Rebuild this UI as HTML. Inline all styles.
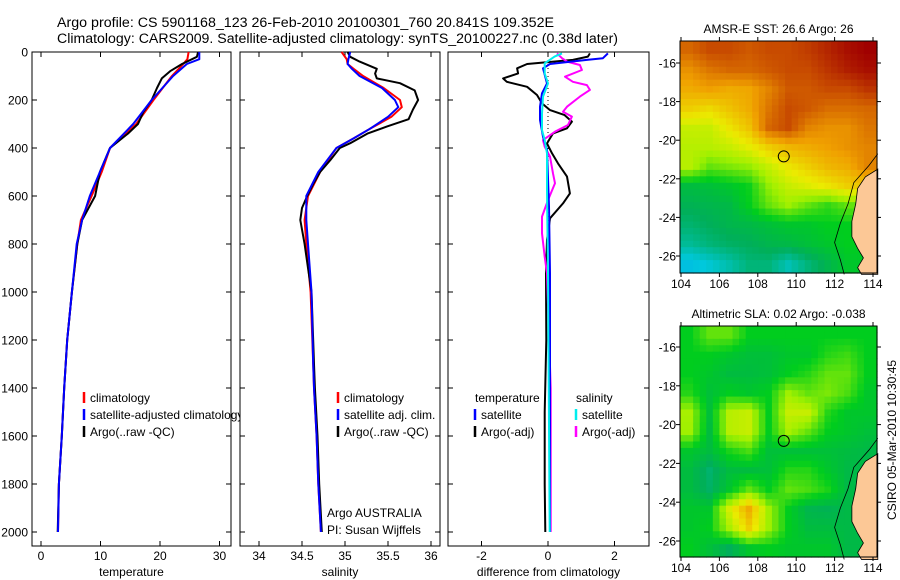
<!DOCTYPE html>
<html><head><meta charset="utf-8"><style>
html,body{margin:0;padding:0;background:#fff;}
svg{display:block;font-family:"Liberation Sans",sans-serif;}
</style></head><body>
<svg id="chart" width="900" height="580" viewBox="0 0 900 580">
<text x="57" y="27" font-size="14.2" textLength="497" lengthAdjust="spacingAndGlyphs">Argo profile: CS 5901168_123 26-Feb-2010 20100301_760 20.841S 109.352E</text>
<text x="57" y="43" font-size="14.2" textLength="561" lengthAdjust="spacingAndGlyphs">Climatology: CARS2009. Satellite-adjusted climatology: synTS_20100227.nc (0.38d later)</text>
<g id="plots"></g>
</svg>
<script>
// ---------- data ----------
const tempDepthClim=[0,30,50,100,200,300,400,500,600,700,800,1000,1200,1400,1600,1800,2000];
const tempClim=[24.8,24.6,23.9,22,18.9,16,11.6,10.2,8.5,6.7,6.1,5.2,4.4,3.9,3.5,3.0,2.85];
const tempSat=[26.6,26.6,24.5,22.2,18.6,15.5,11.6,9.9,8.2,6.9,6.0,5.2,4.4,3.9,3.5,3.0,2.85];
const tempArgoDepth=[0,20,50,80,110,150,200,250,300,340,400,500,600,700,800,1000,1200,1400,1600,1800,2000];
const tempArgo=[26.4,26.2,23.7,21.7,20.3,19.5,18.6,17.2,16.3,14.6,11.6,9.9,9.1,6.9,6.1,5.2,4.4,3.9,3.5,3.0,2.8];
const salDepth=[0,30,50,70,100,150,200,230,270,320,360,400,500,600,700,800,1000,1300,1400,1600,1800,2000];
const salClim=[34.96,35.02,35.03,35.1,35.21,35.45,35.64,35.66,35.54,35.29,35.1,34.9,34.71,34.57,34.53,34.55,34.6,34.63,34.64,34.67,34.69,34.72];
const salSat=[35.06,35.04,35.03,35.08,35.17,35.43,35.58,35.62,35.5,35.29,35.1,34.9,34.69,34.55,34.55,34.57,34.61,34.63,34.64,34.67,34.69,34.72];
const salArgoDepth=[0,20,40,70,90,110,130,160,200,240,280,310,340,380,400,450,500,550,600,650,700,800,900,1000,1300,1400,1600,1800,2000];
const salArgo=[35.03,35.06,35.17,35.37,35.35,35.37,35.64,35.81,35.85,35.79,35.74,35.49,35.26,35.06,34.94,34.83,34.71,34.63,34.56,34.5,34.48,34.53,34.57,34.61,34.64,34.65,34.68,34.7,34.73];
const dTArgoDepth=[6,19,33,50,68,89,110,124,145,179,214,242,263,290,318,339,381,422,464,519,589,631,693,783,922,1200,1500,1800,2000];
const dTArgo=[1.26,1.2,0.75,-0.63,-0.93,-0.9,-1.35,-1.24,-0.63,-0.33,-0.18,0.06,0.5,0.72,0.57,0.15,-0.03,0.12,0.3,0.57,0.66,0.45,0.06,-0.03,-0.06,-0.05,-0.1,-0.1,-0.08];
const dTSatDepth=[6,26,33,50,68,131,172,228,283,353,408,644,922,2000];
const dTSat=[1.8,1.65,1.17,0.06,-0.15,-0.03,-0.18,-0.24,-0.24,-0.15,-0.03,0.03,0.06,0.06];
const dSSatDepth=[6,19,47,89,131,186,256,325,367,422,575,922,2000];
const dSSat=[0.42,0.2,-0.1,-0.1,0,-0.15,-0.18,-0.18,-0.1,-0.03,-0.03,0,0.05];
const dSArgoDepth=[6,26,40,54,75,103,124,138,158,186,228,249,269,304,332,367,394,436,506,547,617,686,756,853,922,1400,2000];
const dSArgo=[0.27,0.42,0.57,0.96,1.02,0.51,0.75,1.17,1.26,0.96,0.57,0.45,0.72,0.6,0.21,-0.15,-0.1,0.06,0.15,0.21,0,-0.18,-0.18,-0.1,-0.03,0.08,0.08];
const depthTicks=[0,200,400,600,800,1000,1200,1400,1600,1800,2000];
const tempTicks=[0,10,20,30];
const salTicks=[34,34.5,35,35.5,36];
const diffTicks=[-2,0,2];
const lonTicks=[104,106,108,110,112,114];
const latTicks=[-16,-18,-20,-22,-24,-26];
const sstGrid=[
[0.86,0.9,0.9,0.88,0.9,0.9,0.92,0.95,0.98,1.0],
[0.8,0.84,0.86,0.86,0.88,0.9,0.9,0.93,0.96,0.98],
[0.76,0.78,0.76,0.77,0.82,0.88,0.88,0.9,0.9,0.93],
[0.7,0.68,0.72,0.76,0.84,0.9,0.88,0.85,0.85,0.86],
[0.6,0.6,0.66,0.72,0.86,0.9,0.82,0.8,0.8,0.84],
[0.58,0.58,0.6,0.64,0.7,0.74,0.76,0.78,0.8,0.82],
[0.58,0.5,0.52,0.54,0.6,0.66,0.7,0.74,0.76,0.82],
[0.37,0.38,0.4,0.43,0.54,0.6,0.63,0.66,0.7,0.72],
[0.34,0.35,0.36,0.42,0.5,0.55,0.5,0.46,0.5,0.5],
[0.31,0.33,0.35,0.36,0.38,0.4,0.4,0.42,0.42,0.42],
[0.27,0.3,0.32,0.33,0.35,0.36,0.38,0.4,0.42,0.42],
[0.18,0.21,0.25,0.3,0.3,0.24,0.3,0.35,0.4,0.4]];
const slaGrid=[
[0.42,0.5,0.5,0.42,0.42,0.42,0.42,0.42,0.42,0.42],
[0.42,0.42,0.4,0.38,0.38,0.4,0.4,0.45,0.47,0.42],
[0.42,0.4,0.37,0.37,0.38,0.42,0.45,0.5,0.5,0.42],
[0.45,0.38,0.42,0.4,0.42,0.55,0.5,0.52,0.48,0.4],
[0.56,0.38,0.58,0.6,0.42,0.6,0.6,0.45,0.4,0.4],
[0.55,0.37,0.58,0.6,0.42,0.56,0.5,0.42,0.4,0.38],
[0.4,0.37,0.44,0.48,0.38,0.38,0.38,0.38,0.37,0.36],
[0.37,0.31,0.37,0.37,0.38,0.45,0.45,0.4,0.36,0.36],
[0.37,0.32,0.4,0.5,0.42,0.5,0.48,0.44,0.36,0.36],
[0.4,0.4,0.62,0.76,0.55,0.42,0.35,0.34,0.36,0.36],
[0.4,0.42,0.56,0.7,0.55,0.42,0.37,0.37,0.36,0.36],
[0.42,0.38,0.33,0.4,0.42,0.4,0.4,0.4,0.36,0.36]];
const argoLon=109.352, argoLat=-20.841;

// ---------- helpers ----------
const NS='http://www.w3.org/2000/svg';
const root=document.getElementById('plots');
function mk(tag,attrs,parent){const e=document.createElementNS(NS,tag);for(const k in attrs)e.setAttribute(k,attrs[k]);(parent||root).appendChild(e);return e;}
const yD=d=>52+0.24*d;
const xT=v=>41+5.95*v;
const xS=v=>259+86*(v-34);
const xDf=v=>548+33.25*v;
const PY0=52,PY1=546;

function line(xs,ds,fx,color,w,name){
  const p=mk('polyline',{points:xs.map((v,i)=>fx(v).toFixed(1)+','+yD(ds[i]).toFixed(1)).join(' '),fill:'none',stroke:color,'stroke-width':w,'stroke-linejoin':'round'});
  
  
}
function panel(x0,x1,ticks,fx,labelFmt,xlabel,name,leftLabels){
  const r=mk('rect',{x:x0,y:PY0,width:x1-x0,height:PY1-PY0,fill:'#fff',stroke:'#000','stroke-width':1});
  
  
  ticks.forEach(t=>{const x=fx(t);
    mk('line',{x1:x,x2:x,y1:PY0,y2:PY0+5,stroke:'#000'});mk('line',{x1:x,x2:x,y1:PY1,y2:PY1-5,stroke:'#000'});
    const tx=mk('text',{x:x,y:PY1+14,'font-size':12,'text-anchor':'middle'});tx.textContent=labelFmt(t);
    
    });
  depthTicks.forEach(d=>{const y=yD(d);
    mk('line',{x1:x0,x2:x0+5,y1:y,y2:y,stroke:'#000'});mk('line',{x1:x1,x2:x1-5,y1:y,y2:y,stroke:'#000'});
    if(leftLabels){const tx=mk('text',{x:x0-4,y:y+4.5,'font-size':12,'text-anchor':'end'});tx.textContent=d;
      
      }});
  const xl=mk('text',{x:(x0+x1)/2,y:576,'font-size':12,'text-anchor':'middle'});xl.textContent=xlabel;
  
  
}
function legend(items,x,y){
  items.forEach((it,i)=>{const yy=y+i*17;
    if(it.c){mk('line',{x1:x,x2:x,y1:yy-10,y2:yy+1,stroke:it.c,'stroke-width':2.5});}
    const t=mk('text',{x:it.c?x+6:x,y:yy,'font-size':12});t.textContent=it.t;
    
    });
}

// panel 1 temperature
panel(32,231,tempTicks,xT,t=>t,'temperature','temperature-panel',true);
line(tempClim,tempDepthClim,xT,'#f00',2,'temp-climatology-line');
line(tempArgo,tempArgoDepth,xT,'#000',2,'temp-argo-line');
line(tempSat,tempDepthClim,xT,'#00f',2,'temp-satellite-line');
legend([{t:'climatology',c:'#f00'},{t:'satellite-adjusted climatology',c:'#00f'},{t:'Argo(..raw -QC)',c:'#000'}],84,402);

// panel 2 salinity
panel(240,440,salTicks,xS,t=>t,'salinity','salinity-panel',false);
line(salClim,salDepth,xS,'#f00',2,'sal-climatology-line');
line(salArgo,salArgoDepth,xS,'#000',2,'sal-argo-line');
line(salSat,salDepth,xS,'#00f',2,'sal-satellite-line');
legend([{t:'climatology',c:'#f00'},{t:'satellite adj. clim.',c:'#00f'},{t:'Argo(..raw -QC)',c:'#000'}],338,402);
legend([{t:'Argo AUSTRALIA'},{t:'PI: Susan Wijffels'}],327,517);

// panel 3 differences
panel(448,649,diffTicks,xDf,t=>t,'difference from climatology','difference-panel',false);
mk('line',{x1:xDf(0),x2:xDf(0),y1:PY0,y2:yD(920),stroke:'#000','stroke-dasharray':'1,3'});
line(dTArgo,dTArgoDepth,xDf,'#000',2,'diff-temp-argo-line');
line(dSArgo,dSArgoDepth,xDf,'#f0f',2,'diff-sal-argo-line');
line(dTSat,dTSatDepth,xDf,'#00f',2,'diff-temp-satellite-line');
line(dSSat,dSSatDepth,xDf,'#0ee',2,'diff-sal-satellite-line');
legend([{t:'temperature'},{t:'satellite',c:'#00f'},{t:'Argo(-adj)',c:'#000'}],475,402);
legend([{t:'salinity'},{t:'satellite',c:'#0ee'},{t:'Argo(-adj)',c:'#f0f'}],576,402);

// colormap
const cmStops=[[0,[0,120,255]],[0.2,[0,200,220]],[0.33,[0,175,90]],[0.42,[0,205,30]],[0.55,[160,240,0]],[0.65,[235,235,0]],[0.78,[240,160,0]],[0.9,[200,75,0]],[1,[160,0,0]]];
function cmap(v){for(let i=1;i<cmStops.length;i++){if(v<=cmStops[i][0]){const a=cmStops[i-1],b=cmStops[i],f=(v-a[0])/(b[0]-a[0]);return 'rgb('+a[1].map((c,k)=>Math.round(c+(b[1][k]-c)*f)).join(',')+')';}}return 'rgb(160,0,0)';}

const land=[[114.25,-21.5],[113.6,-21.9],[113.2,-22.5],[113.1,-23.3],[112.9,-24.2],[112.9,-25],[113.2,-25.6],[113.5,-26.1],[113.2,-26.6],[113.4,-26.95],[114.25,-26.95]];
const shelf=[[114.25,-20.7],[113.8,-21.3],[113.0,-22.2],[112.7,-23.3],[112.3,-24.3],[112.0,-25.3],[112.3,-26.2],[112.5,-26.95]];

function sample(grid,r,c){ // bilinear between cell centres
  const R=grid.length,C=grid[0].length;
  r=Math.max(0,Math.min(R-1,r));c=Math.max(0,Math.min(C-1,c));
  const r0=Math.floor(r),c0=Math.floor(c),r1=Math.min(R-1,r0+1),c1=Math.min(C-1,c0+1),fr=r-r0,fc=c-c0;
  return grid[r0][c0]*(1-fr)*(1-fc)+grid[r0][c1]*(1-fr)*fc+grid[r1][c0]*fr*(1-fc)+grid[r1][c1]*fr*fc;
}
function map(top,bottom,grid,title,name){
  const L=680,R=877,lat16=top===41?63:347,lat26=top===41?256:541;
  const xL=lon=>681+(lon-104)*19.2;
  const pyl=(lat26-lat16)/10;
  const yL=lat=>lat16+(-lat-16)*pyl;
  const rows=grid.length,cols=grid[0].length,S=3,cw=(R-L)/cols/S,ch=(bottom-top)/rows/S;
  for(let i=0;i<rows*S;i++)for(let j=0;j<cols*S;j++){
    const v=sample(grid,(i+0.5)/S-0.5,(j+0.5)/S-0.5);
    const c=mk('rect',{x:(L+j*cw).toFixed(2),y:(top+i*ch).toFixed(2),width:(cw+0.6).toFixed(2),height:(ch+0.6).toFixed(2),fill:cmap(v)});
    
    }
  const lp=mk('polygon',{points:land.map(p=>xL(p[0])+','+yL(p[1])).join(' '),fill:'#fcc896',stroke:'#000','stroke-width':0.8});
  
  
  mk('polyline',{points:shelf.map(p=>xL(p[0])+','+yL(p[1])).join(' '),fill:'none',stroke:'#000','stroke-width':0.8});
  const ci=mk('circle',{cx:xL(argoLon),cy:yL(argoLat),r:5.5,fill:'none',stroke:'#000','stroke-width':1});
  
  
  mk('rect',{x:L,y:top,width:R-L,height:bottom-top,fill:'none',stroke:'#000'});
  lonTicks.forEach(l=>{const x=xL(l);mk('line',{x1:x,x2:x,y1:top,y2:top-4,stroke:'#000'});mk('line',{x1:x,x2:x,y1:bottom,y2:bottom+4,stroke:'#000'});
    const t=mk('text',{x:x,y:bottom+15,'font-size':12,'text-anchor':'middle'});t.textContent=l;
    
    });
  latTicks.forEach(l=>{const y=yL(l);mk('line',{x1:L,x2:L-4,y1:y,y2:y,stroke:'#000'});mk('line',{x1:R,x2:R+4,y1:y,y2:y,stroke:'#000'});
    const t=mk('text',{x:L-4,y:y+4.5,'font-size':12,'text-anchor':'end'});t.textContent=l;
    
    });
  const tt=mk('text',{x:(L+R)/2,y:top-8,'font-size':12,'text-anchor':'middle'});tt.textContent=title;
  
  
}
map(41,273,sstGrid,'AMSR-E SST: 26.6 Argo: 26','sst-map');
map(326,557,slaGrid,'Altimetric SLA: 0.02 Argo: -0.038','sla-map');
const st=mk('text',{x:0,y:0,'font-size':12,'text-anchor':'middle',transform:'translate(896,440) rotate(-90)'});
st.textContent='CSIRO 05-Mar-2010 10:30:45';


</script>
</body></html>
